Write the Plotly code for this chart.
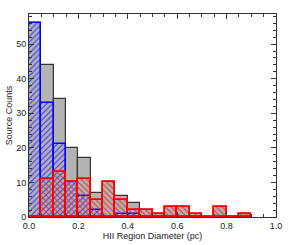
import plotly.graph_objects as go

bin_left = [0.00, 0.05, 0.10, 0.15, 0.20, 0.25, 0.30, 0.35, 0.40, 0.45,
            0.50, 0.55, 0.60, 0.65, 0.70, 0.75, 0.80, 0.85]
bin_width = 0.05
all_counts = [56, 44, 34, 20, 17, 7, 10, 6, 4, 2, 1, 3, 3, 1, 0, 3, 0, 1]
blue_counts = [56, 33, 21, 10, 6, 2, 0, 1, 1, 0, 0, 0, 0, 0, 0, 0, 0, 0]
red_counts = [0, 11, 13, 10, 11, 5, 10, 5, 2, 2, 1, 3, 3, 1, 0, 3, 0, 1]

centers = [b + bin_width / 2 for b in bin_left]

fig = go.Figure()
fig.add_trace(go.Bar(
    x=centers, y=all_counts, width=bin_width,
    marker=dict(color="#b3b3b3", line=dict(color="#333333", width=1.2)),
    showlegend=False))
fig.add_trace(go.Bar(
    x=centers, y=blue_counts, width=bin_width,
    marker=dict(color="rgba(0,0,0,0)", line=dict(color="#0000ff", width=1.5),
                pattern=dict(shape="/", fgcolor="#3030ff", size=4, solidity=0.25,
                             fillmode="replace")),
    showlegend=False))
fig.add_trace(go.Bar(
    x=centers, y=red_counts, width=bin_width,
    marker=dict(color="rgba(0,0,0,0)", line=dict(color="#ff0000", width=1.8),
                pattern=dict(shape="\\", fgcolor="#e03030", size=4, solidity=0.25,
                             fillmode="replace")),
    showlegend=False))

font = dict(family="Liberation Sans, Arial, sans-serif", size=9, color="#222222")
fig.update_layout(
    width=293, height=245,
    margin=dict(l=29, r=17, t=14, b=28, autoexpand=False),
    barmode="overlay", bargap=0,
    plot_bgcolor="white", paper_bgcolor="white",
    font=font,
    xaxis=dict(range=[0, 1.0], tickvals=[0, 0.2, 0.4, 0.6, 0.8, 1.0],
               ticktext=["0.0", "0.2", "0.4", "0.6", "0.8", "1.0"],
               ticks="inside", ticklen=5, tickcolor="#333", mirror="allticks",
               showline=True, linecolor="#333", linewidth=1, showgrid=False,
               zeroline=False, automargin=False,
               minor=dict(ticks="inside", dtick=0.05, ticklen=3, tickcolor="#333"),
               title=dict(text="HII Region Diameter (pc)", standoff=2, font=font)),
    yaxis=dict(range=[0, 58.7], tickvals=[0, 10, 20, 30, 40, 50],
               ticks="inside", ticklen=5, tickcolor="#333", mirror="allticks",
               showline=True, linecolor="#333", linewidth=1, showgrid=False,
               zeroline=False, automargin=False,
               minor=dict(ticks="inside", dtick=2, ticklen=3, tickcolor="#333"),
               title=dict(text="Source Counts", standoff=2, font=font)),
)
fig.write_html("out.html", config={"displayModeBar": False},
               post_script="document.body.style.margin='0';document.body.style.overflow='hidden';")
